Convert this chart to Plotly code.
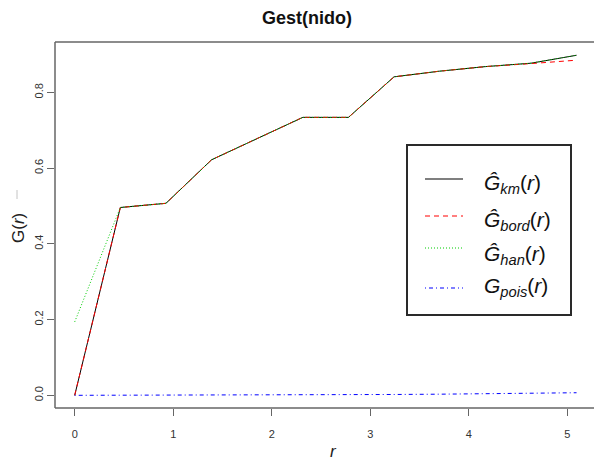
import plotly.graph_objects as go

# Distance grid and estimated nearest-neighbour distribution functions
r = [0.0, 0.463, 0.926, 1.389, 1.852, 2.315, 2.778, 3.241, 3.704, 4.167, 4.630, 5.093]
g_km = [0.0, 0.496, 0.507, 0.622, 0.678, 0.734, 0.734, 0.841, 0.856, 0.868, 0.877, 0.898]
g_bord = [0.0, 0.496, 0.507, 0.622, 0.678, 0.734, 0.734, 0.841, 0.856, 0.868, 0.876, 0.885]
g_han = [0.194, 0.496, 0.507, 0.622, 0.678, 0.734, 0.734, 0.841, 0.856, 0.868, 0.877, 0.898]
g_pois = [0.0, 0.0001, 0.0002, 0.0004, 0.0007, 0.0011, 0.0016, 0.0022, 0.0030, 0.0038, 0.0052, 0.0068]

x_ticks = [0, 1, 2, 3, 4, 5]
x_tick_labels = ["0", "1", "2", "3", "4", "5"]
y_ticks = [0.0, 0.2, 0.4, 0.6, 0.8]
y_tick_labels = ["0.0", "0.2", "0.4", "0.6", "0.8"]

legend_labels = [
    "<i>Ĝ</i><sub><i>km</i></sub>(<i>r</i>)",
    "<i>Ĝ</i><sub><i>bord</i></sub>(<i>r</i>)",
    "<i>Ĝ</i><sub><i>han</i></sub>(<i>r</i>)",
    "<i>G</i><sub><i>pois</i></sub>(<i>r</i>)",
]

W, H = 594, 461
L, T, B = 55, 42, 408
FONT = "Liberation Sans, Arial, sans-serif"
FRAME = "#666"


def px_x(p):
    return (p - L) / (W - L)


def px_y(p):
    return (B - p) / (B - T)


styles = [
    dict(color="#000000", dash="solid"),
    dict(color="#FF0000", dash="5px,4px"),
    dict(color="#00CD00", dash="1px,2px"),
    dict(color="#0000FF", dash="1px,3px,4px,3px"),
]
series = [g_km, g_bord, g_han, g_pois]

fig = go.Figure()
for vals, st in zip(series, styles):
    fig.add_trace(go.Scatter(
        x=r, y=vals, mode="lines",
        line=dict(color=st["color"], dash=st["dash"], width=1),
        showlegend=False, hoverinfo="skip",
    ))

shapes = []
annotations = []

# plot frame: left, top and bottom sides (the right side runs past the page edge)
for x0, y0, x1, y1 in [(0, 0, 0, 1), (0, 1, 1.01, 1), (0, 0, 1.01, 0)]:
    shapes.append(dict(type="line", xref="paper", yref="paper",
                       x0=x0, y0=y0, x1=x1, y1=y1,
                       line=dict(color=FRAME, width=1.5), layer="above"))

# legend frame
shapes.append(dict(type="rect", xref="paper", yref="paper",
                   x0=px_x(407), x1=px_x(571), y0=px_y(315), y1=px_y(145),
                   line=dict(color="#2a2a2a", width=2), fillcolor="white", layer="above"))
line_rows = [179, 216, 248, 288]
text_rows = [184, 221, 255, 287]
for lab, st, ly, ty in zip(legend_labels, styles, line_rows, text_rows):
    shapes.append(dict(type="line", xref="paper", yref="paper",
                       x0=px_x(425), x1=px_x(463), y0=px_y(ly), y1=px_y(ly),
                       line=dict(color=st["color"], dash=st["dash"], width=1.2),
                       layer="above"))
    annotations.append(dict(text=lab, xref="paper", yref="paper",
                            x=px_x(482), y=px_y(ty), xanchor="left", yanchor="middle",
                            showarrow=False, font=dict(family=FONT, size=21, color="#111")))

# small stray mark beside the y-axis title
shapes.append(dict(type="line", xref="paper", yref="paper",
                   x0=px_x(17), x1=px_x(17), y0=px_y(199), y1=px_y(190),
                   line=dict(width=1, color="#c4c4c4")))

annotations.append(dict(text="G(<i>r</i>)", xref="paper", yref="paper",
                        x=px_x(18), y=px_y(228), textangle=-90,
                        xanchor="center", yanchor="middle", showarrow=False,
                        font=dict(family=FONT, size=17, color="#222")))
annotations.append(dict(text="<i>r</i>", xref="paper", yref="paper",
                        x=px_x(333), y=px_y(452),
                        xanchor="center", yanchor="middle", showarrow=False,
                        font=dict(family=FONT, size=17, color="#222")))

fig.update_layout(
    width=W, height=H,
    margin=dict(l=L, r=0, t=T, b=H - B, pad=0),
    paper_bgcolor="white", plot_bgcolor="white",
    title=dict(text="<b>Gest(nido)</b>", x=307 / W, xref="container", xanchor="center",
               y=1 - 18 / H, yref="container", yanchor="middle",
               font=dict(family=FONT, size=18, color="#111")),
    shapes=shapes, annotations=annotations,
    xaxis=dict(range=[-0.2, 5.27], tickvals=x_ticks, ticktext=x_tick_labels,
               showgrid=False, zeroline=False, showline=False,
               ticks="outside", ticklen=7, tickcolor=FRAME, tickwidth=1,
               ticklabelstandoff=9,
               tickfont=dict(family=FONT, size=11, color="#333")),
    yaxis=dict(range=[-0.0335, 0.933], tickvals=y_ticks, ticktext=y_tick_labels,
               showgrid=False, zeroline=False, showline=False,
               ticks="outside", ticklen=7, tickcolor=FRAME, tickwidth=1, tickangle=-90,
               tickfont=dict(family=FONT, size=11, color="#333")),
)

fig.write_html("out.html")
